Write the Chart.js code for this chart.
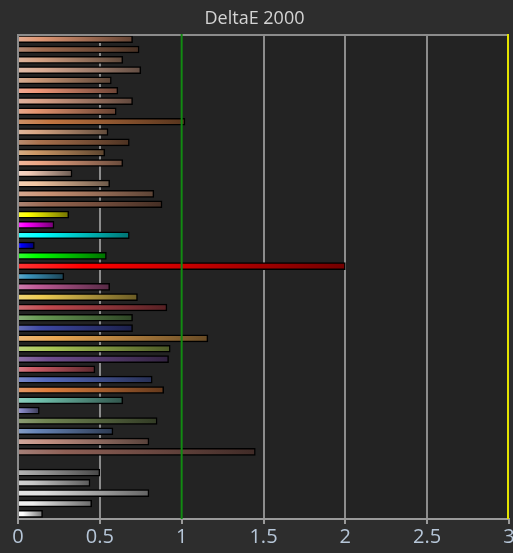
<!DOCTYPE html>
<html>
<head>
<meta charset="utf-8">
<script src="https://cdn.jsdelivr.net/npm/chart.js@4.4.1/dist/chart.umd.min.js"></script>
<style>
  html, body { margin: 0; padding: 0; background: #2d2d2d; }
  #wrap { width: 513px; height: 553px; }
</style>
</head>
<body>
<div id="wrap"><canvas id="chart"></canvas></div>
<script>
// patch index, top to bottom (row 42 is an empty spacer row)
const patches = Array.from({ length: 47 }, (_, i) => String(i + 1));

// DeltaE 2000 per patch
const deltaE = [
  0.70, 0.74, 0.64, 0.75, 0.57, 0.61, 0.70, 0.60, 1.02, 0.55,
  0.68, 0.53, 0.64, 0.33, 0.56, 0.83, 0.88, 0.31, 0.22, 0.68,
  0.10, 0.54, 2.00, 0.28, 0.56, 0.73, 0.91, 0.70, 0.70, 1.16,
  0.93, 0.92, 0.47, 0.82, 0.89, 0.64, 0.13, 0.85, 0.58, 0.80,
  1.45, null, 0.50, 0.44, 0.80, 0.45, 0.15
];

const xTicks = [0, 0.5, 1, 1.5, 2, 2.5, 3];

// patch colours (rgb)
const patchColors = [
  [222,150,115], [160,108,80], [212,162,132], [218,172,148], [202,152,120],
  [240,150,120], [215,160,135], [226,146,110], [192,116,64], [216,166,132],
  [168,112,76], [204,152,102], [236,166,132], [242,204,184], [242,198,162],
  [204,148,118], [152,102,80], [255,255,0], [255,0,255], [0,255,255],
  [0,0,255], [0,255,0], [255,0,0], [60,150,190], [192,92,152],
  [236,202,82], [192,72,78], [102,152,82], [62,72,162], [232,166,82],
  [168,198,86], [112,78,142], [204,92,102], [86,106,188], [222,126,62],
  [112,192,172], [132,132,192], [112,132,82], [102,132,182], [196,146,132],
  [142,96,86], [0,0,0], [160,160,160], [200,200,200], [222,222,222],
  [238,238,238], [255,255,255]
];

const rgb = (c, k) => `rgb(${Math.round(c[0] * k)},${Math.round(c[1] * k)},${Math.round(c[2] * k)})`;
const tint = (c, t) => `rgb(${Math.round(c[0] + (255 - c[0]) * t)},${Math.round(c[1] + (255 - c[1]) * t)},${Math.round(c[2] + (255 - c[2]) * t)})`;

function barFill(ctx) {
  const c = patchColors[ctx.dataIndex];
  const x = ctx.chart.scales.x;
  const v = ctx.raw;
  if (!x || !x.width || v == null) return rgb(c, 1);
  const x0 = x.getPixelForValue(0);
  const x1 = x.getPixelForValue(v);
  if (!(x1 > x0)) return rgb(c, 1);
  const g = ctx.chart.ctx.createLinearGradient(x0, 0, x1, 0);
  g.addColorStop(0, tint(c, 0.2));
  g.addColorStop(0.2, rgb(c, 1));
  g.addColorStop(1, rgb(c, 0.45));
  return g;
}

// plot background, top frame line, and the 1.0 / 3.0 reference lines on top of bars
const frame = {
  id: 'frame',
  beforeDraw(chart) {
    const { ctx, chartArea: a } = chart;
    ctx.save();
    ctx.fillStyle = '#232323';
    ctx.fillRect(a.left, a.top, a.right - a.left, a.bottom - a.top);
    ctx.restore();
  },
  afterDatasetsDraw(chart) {
    const { ctx, chartArea: a, scales: { x } } = chart;
    ctx.save();
    ctx.lineWidth = 2;
    ctx.strokeStyle = '#8c8c8c';
    ctx.beginPath();
    ctx.moveTo(a.left, a.top + 1);
    ctx.lineTo(a.right, a.top + 1);
    ctx.stroke();
    ctx.strokeStyle = '#128a12';
    const p1 = x.getPixelForValue(1);
    ctx.beginPath();
    ctx.moveTo(p1, a.top);
    ctx.lineTo(p1, a.bottom);
    ctx.stroke();
    ctx.strokeStyle = '#e4e400';
    const p3 = x.getPixelForValue(3) - 1;
    ctx.beginPath();
    ctx.moveTo(p3, a.top);
    ctx.lineTo(p3, a.bottom);
    ctx.stroke();
    ctx.restore();
  }
};

new Chart(document.getElementById('chart'), {
  type: 'bar',
  data: {
    labels: patches,
    datasets: [{
      label: 'DeltaE 2000',
      data: deltaE,
      backgroundColor: barFill,
      borderColor: '#000000',
      borderWidth: 1.5,
      barThickness: 7
    }]
  },
  options: {
    indexAxis: 'y',
    responsive: true,
    maintainAspectRatio: false,
    animation: false,
    layout: { padding: { left: 0, right: 4, top: 0, bottom: 0 } },
    plugins: {
      legend: { display: false },
      tooltip: { enabled: false },
      title: {
        display: true,
        text: 'DeltaE 2000',
        color: '#d4d4d4',
        font: { family: 'Open Sans', size: 18, weight: 'normal', lineHeight: 1.2 },
        padding: { top: 8, bottom: 4.4 }
      }
    },
    scales: {
      x: {
        min: 0,
        max: 3,
        afterBuildTicks: (s) => { s.ticks = xTicks.map(v => ({ value: v })); },
        afterFit: (s) => { s.height = 34; s.paddingLeft = 0; s.paddingRight = 0; },
        grid: {
          color: (c) => (c.tick && (c.tick.value === 1 || c.tick.value === 3)) ? 'rgba(0,0,0,0)' : '#8c8c8c',
          lineWidth: 2,
          tickColor: '#9a9a9a',
          tickLength: 5
        },
        border: { color: '#9a9a9a', width: 2 },
        ticks: {
          color: '#b6c6d8',
          padding: 1,
          autoSkip: false,
          maxRotation: 0,
          font: { family: 'Open Sans', size: 20 },
          callback: (v) => String(v)
        }
      },
      y: {
        afterFit: (s) => { s.width = 18; },
        grid: { display: false },
        border: { display: false },
        ticks: { display: false }
      }
    }
  },
  plugins: [frame]
});
</script>
</body>
</html>
